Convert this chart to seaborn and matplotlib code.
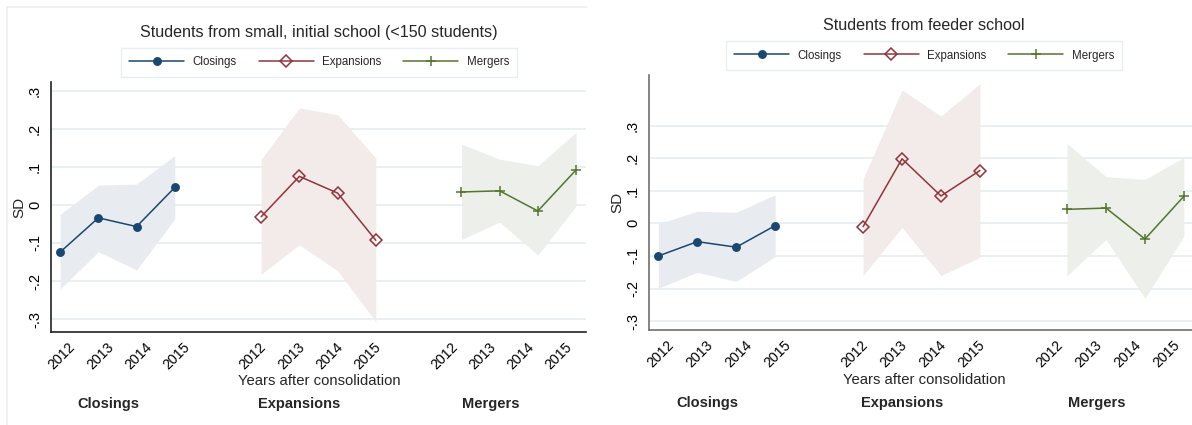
import matplotlib
matplotlib.use("Agg")
import matplotlib.pyplot as plt
from matplotlib.lines import Line2D
from matplotlib.transforms import ScaledTranslation
import seaborn as sns
import pandas as pd
import numpy as np

# ---------------- data ----------------
years = [2012, 2013, 2014, 2015]
groups = ["Closings", "Expansions", "Mergers"]
panel_titles = ["Students from small, initial school (<150 students)", "Students from feeder school"]
ytick_vals = [-0.3, -0.2, -0.1, 0.0, 0.1, 0.2, 0.3]
ytick_labels = ["-.3", "-.2", "-.1", "0", ".1", ".2", ".3"]

# Panel A: small initial school
closings_a = [-0.124, -0.034, -0.057, 0.046]
closings_a_hi = [-0.025, 0.052, 0.055, 0.130]
closings_a_lo = [-0.221, -0.123, -0.171, -0.037]
expansions_a = [-0.031, 0.075, 0.031, -0.093]
expansions_a_hi = [0.120, 0.255, 0.237, 0.123]
expansions_a_lo = [-0.182, -0.105, -0.173, -0.307]
mergers_a = [0.034, 0.037, -0.016, 0.092]
mergers_a_hi = [0.160, 0.120, 0.103, 0.191]
mergers_a_lo = [-0.091, -0.045, -0.132, -0.003]

# Panel B: feeder school
closings_b = [-0.100, -0.056, -0.073, -0.007]
closings_b_hi = [-0.001, 0.037, 0.034, 0.088]
closings_b_lo = [-0.199, -0.150, -0.178, -0.102]
expansions_b = [-0.010, 0.198, 0.084, 0.162]
expansions_b_hi = [0.137, 0.409, 0.329, 0.428]
expansions_b_lo = [-0.160, -0.012, -0.160, -0.104]
mergers_b = [0.043, 0.047, -0.048, 0.083]
mergers_b_hi = [0.245, 0.143, 0.135, 0.202]
mergers_b_lo = [-0.160, -0.049, -0.230, -0.039]

# ---------------- style ----------------
sns.set_theme(style="white")
plt.rcParams["font.family"] = ["Liberation Sans", "DejaVu Sans"]

colors = {"Closings": "#1a476f", "Expansions": "#90353b", "Mergers": "#55752f"}
fills = {"Closings": "#e8ecf1", "Expansions": "#f3eaea", "Mergers": "#ecefea"}
markers = {"Closings": "o", "Expansions": "D", "Mergers": "+"}
msize = {"Closings": 5.3, "Expansions": 5.9, "Mergers": 6.5}
mface = {"Closings": "#1a476f", "Expansions": "none", "Mergers": "#55752f"}
group_base = {"Closings": 1, "Expansions": 6, "Mergers": 11}
point_offset = {"Closings": -0.26, "Expansions": 0.0, "Mergers": 0.24}

W, H = 1192, 425
fig = plt.figure(figsize=(W / 100, H / 100), dpi=100)
fig.patch.set_facecolor("white")

def px_axes(l, r, t, b):
    return fig.add_axes([l / W, 1 - b / H, (r - l) / W, (b - t) / H])

panels = [
    dict(rect=(51, 586, 82, 332), ylim=(-0.334, 0.323), spine="#222222",
         title_y=32, leg_y=62.5, xlab_y=381, grp_y=404, cx=319,
         data={"Closings": (closings_a, closings_a_lo, closings_a_hi),
               "Expansions": (expansions_a, expansions_a_lo, expansions_a_hi),
               "Mergers": (mergers_a, mergers_a_lo, mergers_a_hi)}),
    dict(rect=(649, 1194, 75, 330), ylim=(-0.327, 0.455), spine="#707070",
         title_y=26, leg_y=55.5, xlab_y=380, grp_y=403, cx=924,
         data={"Closings": (closings_b, closings_b_lo, closings_b_hi),
               "Expansions": (expansions_b, expansions_b_lo, expansions_b_hi),
               "Mergers": (mergers_b, mergers_b_lo, mergers_b_hi)}),
]

# light frame of left panel
fig.add_artist(Line2D([7 / W, 587 / W], [1 - 7 / H, 1 - 7 / H], color="#ededed", lw=1.2, transform=fig.transFigure))
fig.add_artist(Line2D([7 / W, 7 / W], [1 - 7 / H, 0], color="#ededed", lw=1.2, transform=fig.transFigure))

for pi, p in enumerate(panels):
    l, r, t, b = p["rect"]
    ax = px_axes(l, r, t, b)
    ax.set_facecolor("white")
    for name in groups:
        vals, lo, hi = p["data"][name]
        xs = [group_base[name] + i + point_offset[name] for i in range(len(years))]
        ax.fill_between(xs, lo, hi, color=fills[name], lw=0, zorder=1)
        df = pd.DataFrame({"x": xs, "y": vals})
        sns.lineplot(data=df, x="x", y="y", ax=ax, color=colors[name], lw=1.1,
                     marker=markers[name], markersize=msize[name],
                     markerfacecolor=mface[name], markeredgecolor=colors[name],
                     markeredgewidth=1.1, zorder=3, legend=False)
    ax.set_xlim(0.5, 14.5)
    ax.set_ylim(*p["ylim"])
    xt, xl = [], []
    for name in groups:
        for i, y in enumerate(years):
            xt.append(group_base[name] + i)
            xl.append(str(y))
    ax.set_xticks(xt)
    ax.set_xticklabels(xl, rotation=45, ha="right", va="center", rotation_mode="anchor", fontsize=10.2)
    ax.set_yticks(ytick_vals)
    ax.set_yticklabels(ytick_labels, rotation=90, va="center", fontsize=10.5)
    ax.set_xlabel("")
    ax.set_ylabel("SD", fontsize=11, labelpad=1)
    for yv in ytick_vals:
        ax.axhline(yv, color="#e6eff1", lw=1.3, zorder=0)
    for s in ["top", "right"]:
        ax.spines[s].set_visible(False)
    for s in ["left", "bottom"]:
        ax.spines[s].set_color(p["spine"])
        ax.spines[s].set_linewidth(1.2)
    ax.tick_params(axis="both", which="both", direction="out", length=5, width=1,
                   color=p["spine"], labelcolor="black")
    ax.tick_params(axis="y", pad=1.5)
    ax.tick_params(axis="x", pad=4)
    shift = ScaledTranslation(3 / 100, 0, fig.dpi_scale_trans)
    for lab in ax.get_xticklabels():
        lab.set_transform(lab.get_transform() + shift)

    cx = p["cx"]
    fig.text(cx / W, 1 - p["title_y"] / H, panel_titles[pi], ha="center", va="center", fontsize=11.6)
    fig.text(cx / W, 1 - p["xlab_y"] / H, "Years after consolidation", ha="center", va="center", fontsize=10.7)
    for name in groups:
        xd = group_base[name] + 1
        xf = (l + (xd - 0.5) / 14.0 * (r - l)) / W
        fig.text(xf, 1 - p["grp_y"] / H, name, ha="center", va="center", fontsize=10.5, fontweight="bold")

    handles = [Line2D([], [], color=colors[n], lw=1.1, marker=markers[n], markersize=msize[n],
                      markerfacecolor=mface[n], markeredgecolor=colors[n], markeredgewidth=1.1)
               for n in groups]
    leg = fig.legend(handles, groups, loc="center", bbox_to_anchor=(cx / W, 1 - p["leg_y"] / H),
                     ncol=3, fontsize=8.3, frameon=True, fancybox=False, handlelength=4.8,
                     handletextpad=0.7, columnspacing=1.9, borderpad=0.7)
    leg.get_frame().set_edgecolor("#e3eaec")
    leg.get_frame().set_linewidth(1.0)

fig.savefig("out.png", dpi=100, facecolor="white")
